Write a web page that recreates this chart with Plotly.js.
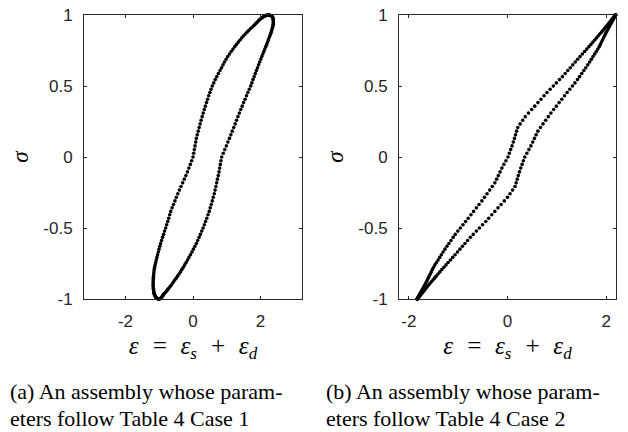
<!DOCTYPE html>
<html>
<head>
<meta charset="utf-8">
<script src="https://cdn.plot.ly/plotly-3.0.1.min.js"></script>
<style>html,body{margin:0;padding:0;background:#fff;}#chart{width:628px;height:432px;}</style>
</head>
<body>
<div id="chart"></div>
<script>
// Stress levels shared by every branch (one cycle, loading: -1 -> 1)
var sigma = [
-1.000,-1.000,-0.999,-0.997,-0.995,-0.991,-0.988,-0.983,-0.978,-0.972,
-0.966,-0.959,-0.951,-0.943,-0.934,-0.924,-0.914,-0.903,-0.891,-0.879,
-0.866,-0.853,-0.839,-0.824,-0.809,-0.793,-0.777,-0.760,-0.743,-0.725,
-0.707,-0.688,-0.669,-0.649,-0.629,-0.609,-0.588,-0.566,-0.545,-0.522,
-0.500,-0.477,-0.454,-0.431,-0.407,-0.383,-0.358,-0.334,-0.309,-0.284,
-0.259,-0.233,-0.208,-0.182,-0.156,-0.131,-0.105,-0.078,-0.052,-0.026,
0.000,0.026,0.052,0.078,0.105,0.131,0.156,0.182,0.208,0.233,
0.259,0.284,0.309,0.334,0.358,0.383,0.407,0.431,0.454,0.477,
0.500,0.522,0.545,0.566,0.588,0.609,0.629,0.649,0.669,0.688,
0.707,0.725,0.743,0.760,0.777,0.793,0.809,0.824,0.839,0.853,
0.866,0.879,0.891,0.903,0.914,0.924,0.934,0.943,0.951,0.959,
0.966,0.972,0.978,0.983,0.988,0.991,0.995,0.997,0.999,1.000,
1.000];

// Case 1 strain, loading branch (left side of loop)
var case1Loading = [
-1.010,-1.030,-1.045,-1.060,-1.075,-1.090,-1.100,-1.115,-1.125,-1.135,
-1.145,-1.155,-1.160,-1.165,-1.170,-1.175,-1.178,-1.180,-1.180,-1.180,
-1.178,-1.175,-1.170,-1.165,-1.158,-1.150,-1.137,-1.122,-1.106,-1.089,
-1.070,-1.050,-1.028,-1.006,-0.983,-0.960,-0.932,-0.903,-0.873,-0.842,
-0.810,-0.780,-0.750,-0.720,-0.690,-0.660,-0.620,-0.578,-0.536,-0.494,
-0.450,-0.403,-0.355,-0.306,-0.258,-0.210,-0.165,-0.122,-0.080,-0.040,
0.000,0.020,0.040,0.060,0.080,0.100,0.127,0.155,0.183,0.211,
0.240,0.271,0.302,0.334,0.366,0.400,0.433,0.466,0.500,0.535,
0.570,0.614,0.659,0.705,0.752,0.800,0.845,0.890,0.935,0.982,
1.030,1.081,1.133,1.185,1.237,1.290,1.342,1.394,1.446,1.498,
1.550,1.600,1.650,1.700,1.750,1.800,1.840,1.875,1.910,1.940,
1.970,2.000,2.030,2.060,2.090,2.120,2.145,2.165,2.185,2.205,
2.230];

// Case 1 strain, unloading branch (right side of loop)
var case1Unloading = [
-1.010,-1.000,-0.990,-0.975,-0.960,-0.945,-0.930,-0.915,-0.900,-0.885,
-0.870,-0.840,-0.810,-0.780,-0.750,-0.720,-0.684,-0.648,-0.612,-0.576,
-0.540,-0.498,-0.456,-0.414,-0.372,-0.330,-0.288,-0.246,-0.204,-0.162,
-0.120,-0.076,-0.032,0.012,0.056,0.100,0.140,0.180,0.220,0.260,
0.300,0.336,0.372,0.408,0.444,0.480,0.510,0.540,0.570,0.600,
0.630,0.654,0.678,0.702,0.726,0.750,0.770,0.790,0.810,0.830,
0.850,0.896,0.942,0.988,1.034,1.080,1.122,1.164,1.206,1.248,
1.290,1.332,1.374,1.416,1.458,1.500,1.542,1.584,1.626,1.668,
1.710,1.744,1.778,1.812,1.846,1.880,1.912,1.944,1.976,2.008,
2.040,2.070,2.099,2.128,2.157,2.185,2.209,2.232,2.255,2.278,
2.300,2.316,2.331,2.345,2.358,2.370,2.377,2.380,2.381,2.380,
2.378,2.374,2.368,2.360,2.350,2.335,2.315,2.295,2.275,2.255,
2.230];

// Case 2 strain, loading branch
var case2Loading = [
-1.830,-1.830,-1.828,-1.825,-1.822,-1.816,-1.811,-1.804,-1.796,-1.787,
-1.777,-1.767,-1.754,-1.742,-1.728,-1.713,-1.697,-1.680,-1.662,-1.644,
-1.626,-1.608,-1.588,-1.566,-1.545,-1.523,-1.500,-1.472,-1.441,-1.408,
-1.375,-1.341,-1.306,-1.268,-1.228,-1.188,-1.146,-1.102,-1.060,-1.008,
-0.957,-0.903,-0.849,-0.796,-0.741,-0.687,-0.630,-0.577,-0.520,-0.467,
-0.414,-0.360,-0.308,-0.256,-0.220,-0.186,-0.151,-0.114,-0.074,-0.032,
0.010,0.037,0.064,0.091,0.118,0.141,0.163,0.185,0.208,0.256,
0.308,0.360,0.425,0.490,0.552,0.617,0.679,0.741,0.800,0.865,
0.929,0.990,1.054,1.113,1.169,1.222,1.273,1.324,1.374,1.423,
1.471,1.518,1.564,1.607,1.651,1.692,1.732,1.769,1.806,1.840,
1.872,1.904,1.934,1.963,1.990,2.014,2.037,2.058,2.077,2.095,
2.111,2.125,2.139,2.151,2.162,2.169,2.178,2.183,2.188,2.190,
2.190];

// Case 2 strain, unloading branch
var case2Unloading = [
-1.830,-1.830,-1.828,-1.823,-1.818,-1.809,-1.802,-1.791,-1.779,-1.765,
-1.751,-1.735,-1.717,-1.698,-1.677,-1.654,-1.630,-1.603,-1.574,-1.544,
-1.512,-1.480,-1.446,-1.409,-1.372,-1.332,-1.291,-1.247,-1.204,-1.158,
-1.111,-1.063,-1.014,-0.964,-0.913,-0.862,-0.809,-0.753,-0.694,-0.630,
-0.569,-0.505,-0.440,-0.381,-0.319,-0.257,-0.192,-0.130,-0.065,0.000,
0.052,0.104,0.152,0.175,0.197,0.219,0.242,0.269,0.296,0.323,
0.350,0.392,0.434,0.474,0.511,0.546,0.580,0.616,0.668,0.720,
0.774,0.827,0.880,0.937,0.990,1.047,1.101,1.156,1.209,1.263,
1.317,1.368,1.420,1.462,1.506,1.548,1.588,1.628,1.666,1.701,
1.735,1.768,1.801,1.832,1.860,1.883,1.905,1.926,1.948,1.968,
1.986,2.004,2.022,2.040,2.057,2.073,2.088,2.102,2.114,2.127,
2.137,2.147,2.156,2.164,2.171,2.176,2.182,2.185,2.188,2.190,
2.190];

var yTickVals = [-1, -0.5, 0, 0.5, 1];
var yTickText = ['-1', '-0.5', '0', '0.5', '1'];
var xTickVals = [-2, 0, 2];
var xTickText = ['-2', '0', '2'];
var subStyle = 'baseline-shift:-28%;font-size:17px';
var xTitle = 'ε\u2002=\u2002ε<span style="' + subStyle + '">s</span>\u2002+\u2002ε<span style="' + subStyle + '">d</span>';
var yTitle = 'σ';
var captionA = ['(a) An assembly whose param-', 'eters follow Table 4 Case 1'];
var captionB = ['(b) An assembly whose param-', 'eters follow Table 4 Case 2'];

var dotStyle = {size: 3.6, color: '#000000', line: {width: 0}};
function branch(x, xa, ya) {
  return {type: 'scatter', mode: 'markers', x: x, y: sigma, xaxis: xa, yaxis: ya,
          marker: dotStyle, cliponaxis: false, hoverinfo: 'skip', showlegend: false};
}
var data = [
  branch(case1Loading, 'x', 'y'),
  branch(case1Unloading, 'x', 'y'),
  branch(case2Loading, 'x2', 'y2'),
  branch(case2Unloading, 'x2', 'y2')
];

var axisColor = '#262626';
var tickFont = {family: 'Liberation Sans, Arial, sans-serif', size: 17, color: axisColor};
var mathFont = {family: 'Liberation Serif, serif', size: 25, color: '#000', style: 'italic'};
function xAxis(domain, range, anchor) {
  return {domain: domain, range: range, autorange: false, anchor: anchor,
    tickvals: xTickVals, ticktext: xTickText, ticks: 'inside', ticklen: 3, tickwidth: 1,
    tickcolor: axisColor, showline: true, linecolor: axisColor, linewidth: 1, mirror: 'ticks',
    showgrid: false, zeroline: false, ticklabelstandoff: 7, tickfont: tickFont,
    title: {text: xTitle, standoff: 6, font: mathFont}};
}
function yAxis(anchor) {
  return {domain: [0, 1], range: [-1, 1], autorange: false, anchor: anchor,
    tickvals: yTickVals, ticktext: yTickText, ticks: 'inside', ticklen: 3, tickwidth: 1,
    tickcolor: axisColor, showline: true, linecolor: axisColor, linewidth: 1, mirror: 'ticks',
    showgrid: false, zeroline: false, ticklabelstandoff: 7, tickfont: tickFont,
    title: {text: yTitle, standoff: 8,
            font: {family: 'Liberation Serif, serif', size: 23, color: '#000', style: 'italic'}}};
}

var capFont = {family: 'Liberation Serif, Times New Roman, serif', size: 22, color: '#000'};
function cap(text, xpx, ypx) {
  return {text: text, xref: 'paper', yref: 'paper', x: (xpx - 84) / 532, y: (299 - ypx) / 284,
          xanchor: 'left', yanchor: 'middle', showarrow: false, font: capFont};
}

var layout = {
  width: 628, height: 432,
  margin: {l: 84, r: 12, t: 15, b: 133, pad: 0},
  paper_bgcolor: '#ffffff', plot_bgcolor: '#ffffff',
  showlegend: false,
  xaxis: xAxis([0, 218 / 532], [-3.23, 3.23], 'y'),
  yaxis: yAxis('x'),
  xaxis2: xAxis([315 / 532, 1], [-2.2, 2.2], 'y2'),
  yaxis2: yAxis('x2'),
  annotations: [
    cap(captionA[0], 8, 391), cap(captionA[1], 8, 418),
    cap(captionB[0], 324, 391), cap(captionB[1], 324, 418)
  ]
};

Plotly.newPlot('chart', data, layout, {staticPlot: true, displayModeBar: false});
</script>
</body>
</html>
